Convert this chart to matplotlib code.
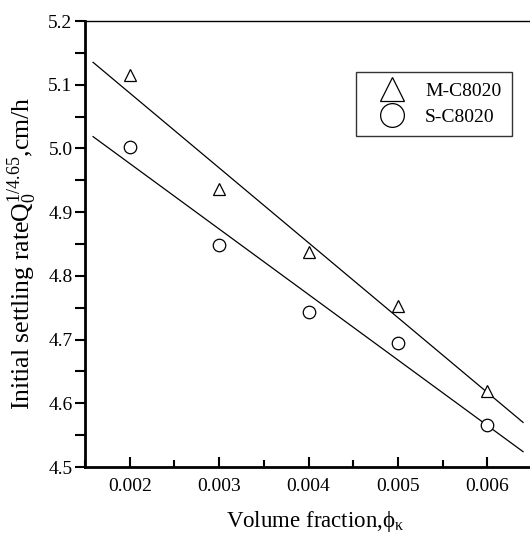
import matplotlib
matplotlib.use("Agg")
import matplotlib.pyplot as plt
import numpy as np
from matplotlib.ticker import MultipleLocator

plt.rcParams['font.family'] = ['Liberation Serif', 'DejaVu Serif']
plt.rcParams['mathtext.fontset'] = 'custom'
plt.rcParams['mathtext.rm'] = 'Liberation Serif'
plt.rcParams['mathtext.it'] = 'Liberation Serif:italic'

# volume fraction
phi = [0.002, 0.003, 0.004, 0.005, 0.006]
# initial settling rate Q0^(1/4.65)
m_c8020 = [5.115, 4.936, 4.837, 4.753, 4.619]
s_c8020 = [5.003, 4.848, 4.743, 4.694, 4.566]
fit_range = [0.00159, 0.0064]

fig = plt.figure(figsize=(5.30, 5.34), dpi=100)
ax = fig.add_axes([85 / 530, 1 - 467 / 534, 447 / 530, 446 / 534])

# linear fits
xf = np.array(fit_range)
for ys in (m_c8020, s_c8020):
    k, b = np.polyfit(phi, ys, 1)
    ax.plot(xf, k * xf + b, color='black', lw=0.9)

ax.plot(phi, m_c8020, linestyle='none', marker='^', ms=9, mfc='white',
        mec='black', mew=0.9, label='M-C8020')
ax.plot(phi, s_c8020, linestyle='none', marker='o', ms=9, mfc='white',
        mec='black', mew=0.9, label='S-C8020')

ax.set_xlim(0.0015, 0.0065)
ax.set_ylim(4.5, 5.2)
ax.xaxis.set_major_locator(MultipleLocator(0.001))
ax.xaxis.set_minor_locator(MultipleLocator(0.0005))
ax.yaxis.set_major_locator(MultipleLocator(0.1))
ax.yaxis.set_minor_locator(MultipleLocator(0.05))
ax.xaxis.set_major_formatter(plt.FuncFormatter(lambda v, p: '%.3f' % v))
ax.yaxis.set_major_formatter(plt.FuncFormatter(lambda v, p: '%.1f' % v))

ax.tick_params(axis='x', which='major', direction='in', length=7, width=1.5,
               labelsize=14, pad=8)
ax.tick_params(axis='x', which='minor', direction='in', length=5, width=1.5)
ax.tick_params(axis='y', which='both', direction='out', length=7, width=1.5,
               labelsize=14, pad=2)

ax.spines['right'].set_visible(False)
ax.spines['top'].set_linewidth(1.0)
ax.spines['left'].set_linewidth(2.0)
ax.spines['bottom'].set_linewidth(2.0)

ax.set_xlabel(r'Volume fraction,$\mathregular{\phi_\kappa}$', fontsize=16.5)
ax.xaxis.set_label_coords(0.515, -0.095)
ax.set_ylabel(r'Initial settling rate$\mathregular{Q_0^{1/4.65}}$,cm/h', fontsize=18.5)
ax.yaxis.set_label_coords(-0.103, 0.478)

leg = ax.legend(loc='upper right', bbox_to_anchor=(0.955, 0.886), borderaxespad=0,
                fontsize=14, markerscale=1.9, frameon=True, fancybox=False,
                edgecolor='black', handlelength=2.6, handletextpad=0.4,
                borderpad=0.55, labelspacing=0.4)
leg.get_frame().set_linewidth(1.0)

fig.savefig('out.png', dpi=100)
